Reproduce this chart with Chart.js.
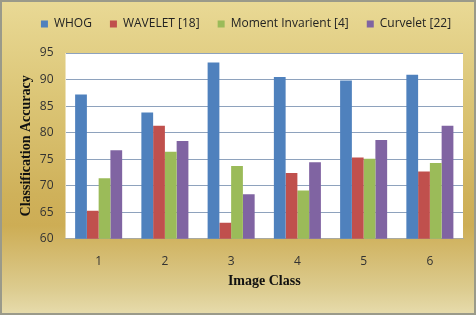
<!DOCTYPE html>
<html>
<head>
<meta charset="utf-8">
<script src="https://cdn.jsdelivr.net/npm/chart.js@4.4.1/dist/chart.umd.min.js"></script>
<style>
    html, body { margin: 0; padding: 0; }
    #wrap {
        width: 472px; height: 311px;
        border: 2px solid #9a9a8a;
        background: linear-gradient(180deg, #e9d995 0%, #dcc677 30%, #cfb15a 62%, #cdad55 72%, #dccb8e 92%, #e6dbab 100%);
    }
</style>
</head>
<body>
<div id="wrap"><canvas id="myChart" width="472" height="311"></canvas></div>
<script>
const classes = ['1', '2', '3', '4', '5', '6'];
const whog = [87.2, 83.8, 93.2, 90.5, 89.8, 90.9];
const wavelet = [65.3, 81.3, 63.0, 72.4, 75.3, 72.7];
const moment = [71.4, 76.4, 73.7, 69.1, 75.1, 74.3];
const curvelet = [76.7, 78.4, 68.4, 74.4, 78.6, 81.3];
const yTicks = [60, 65, 70, 75, 80, 85, 90, 95];

// white plot area
const plotBg = {
    id: 'plotBg',
    beforeDraw(chart) {
        const a = chart.chartArea;
        const ctx = chart.ctx;
        ctx.save();
        ctx.fillStyle = 'white';
        ctx.fillRect(a.left, a.top, a.right - a.left, a.bottom - a.top);
        ctx.restore();
    }
};

// more room under the legend, and nudge it like in the original
const legendGap = {
    id: 'legendGap',
    beforeInit(chart) {
        const fit = chart.legend.fit;
        chart.legend.fit = function () {
            fit.bind(chart.legend)();
            this.height += 11;
        };
    },
    afterLayout(chart) {
        chart.legend.left += 8;
        chart.legend.right += 8;
        chart.legend.top -= 2;
    }
};

Chart.defaults.font.family = "'Open Sans', 'Liberation Sans', sans-serif";
Chart.defaults.color = '#333';

var ctx = document.getElementById('myChart');
var myChart = new Chart(ctx, {
    type: 'bar',
    data: {
        labels: classes,
        datasets: [
            { label: 'WHOG', data: whog, backgroundColor: '#4f81bd' },
            { label: 'WAVELET [18]', data: wavelet, backgroundColor: '#c0504d' },
            { label: 'Moment Invarient [4]', data: moment, backgroundColor: '#9bbb59' },
            { label: 'Curvelet [22]', data: curvelet, backgroundColor: '#8064a2' }
        ]
    },
    plugins: [plotBg, legendGap],
    options: {
        responsive: false,
        animation: false,
        devicePixelRatio: 1,
        layout: { padding: { left: 11, right: 11, top: 0, bottom: 23 } },
        datasets: {
            bar: { barPercentage: 1, categoryPercentage: 0.71 }
        },
        plugins: {
            legend: {
                position: 'top',
                labels: {
                    boxWidth: 7, boxHeight: 7, padding: 18,
                    font: { size: 12 }, color: '#222'
                }
            },
            tooltip: { enabled: false }
        },
        scales: {
            x: {
                grid: { display: false },
                border: { color: '#a9a9a0' },
                ticks: { font: { size: 12 }, padding: 8 },
                title: {
                    display: true, text: 'Image Class',
                    font: { family: "'Liberation Serif', serif", size: 14, weight: 'bold' },
                    color: '#111', padding: { top: -4, bottom: 0 }
                }
            },
            y: {
                min: 60, max: 95,
                afterBuildTicks(axis) {
                    axis.ticks = yTicks.map(v => ({ value: v }));
                },
                grid: { color: '#8ea2bd', drawTicks: false },
                border: { display: false },
                ticks: { font: { size: 12 }, padding: 12 },
                title: {
                    display: true, text: 'Classification Accuracy',
                    font: { family: "'Liberation Serif', serif", size: 14, weight: 'bold' },
                    color: '#111', padding: { top: 5, bottom: -7 }
                }
            }
        }
    }
});
</script>
</body>
</html>
